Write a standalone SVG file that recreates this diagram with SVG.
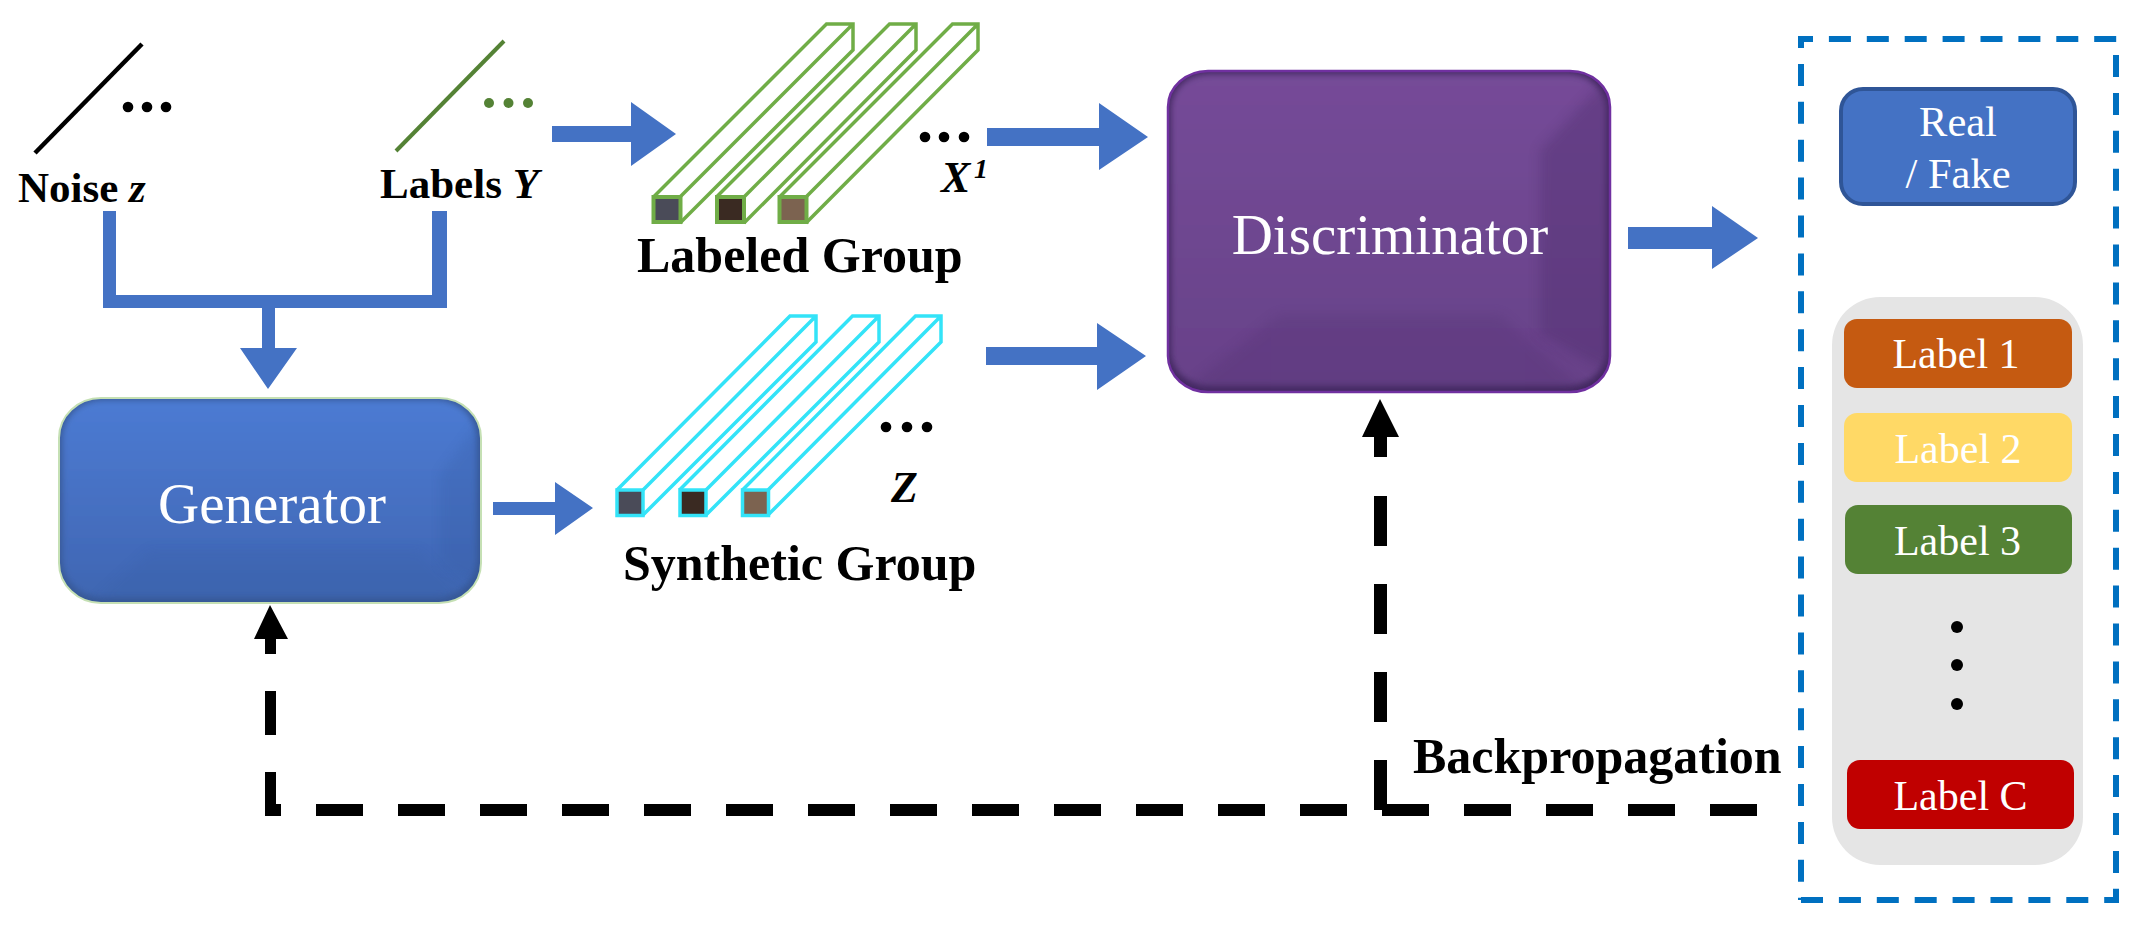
<svg xmlns="http://www.w3.org/2000/svg" width="2141" height="935" viewBox="0 0 2141 935">
<style>
text{font-family:"Liberation Serif","Times New Roman",serif}
.b{font-weight:700;fill:#000;font-size:43px}
.bi{font-weight:700;font-style:italic;fill:#000}
.g{font-weight:700;font-size:50px;fill:#000}
.t{fill:#fff;font-size:57px;text-anchor:middle}
.l{fill:#fff;font-size:42px;text-anchor:middle}
.arrow{fill:#4472c4}
.dash{fill:none;stroke:#000}
.box{fill:none;stroke:#0070c0;stroke-width:6;stroke-dasharray:22 15.9}
.bar-g{fill:#fff;stroke:#70ad47;stroke-width:3.5;stroke-linejoin:miter}
.bar-c{fill:#fff;stroke:#33e3f8;stroke-width:3.5;stroke-linejoin:miter}
</style>
<defs>
<linearGradient id="gblue" x1="0" y1="0" x2="0" y2="1"><stop offset="0" stop-color="#4c7bd3"/><stop offset="1" stop-color="#4066b2"/></linearGradient>
<linearGradient id="gpur" x1="0" y1="0" x2="0" y2="1"><stop offset="0" stop-color="#754b98"/><stop offset="1" stop-color="#684289"/></linearGradient>
<filter id="soft" x="-5%" y="-5%" width="110%" height="110%"><feGaussianBlur stdDeviation="3"/></filter>
<filter id="softer" x="-20%" y="-20%" width="140%" height="140%"><feGaussianBlur stdDeviation="6"/></filter>
<clipPath id="cg"><rect x="59" y="398" width="422" height="205" rx="42" ry="40"/></clipPath>
<clipPath id="cd"><rect x="1168" y="71" width="442" height="321" rx="40" ry="36"/></clipPath>
</defs>

<g id="connectors">
<path class="arrow" d="M552 126H631V102L676 134L631 166V142H552Z"/>
<path class="arrow" d="M103 211H116V295H432V211H447V308H275V348H297L268 389L240 348H262V308H103Z"/>
<path class="arrow" d="M987 128H1099V103L1148 137L1099 170V146H987Z"/>
<path class="arrow" d="M986 347H1097V323L1146 356L1097 390V365H986Z"/>
<path class="arrow" d="M493 502H555V482L593 508L555 535V515H493Z"/>
<path class="arrow" d="M1628 227H1712V206L1758 238L1712 269V249H1628Z"/>
<path class="dash" stroke-width="12" stroke-dasharray="47 35" d="M1757 810H265"/>
<path class="dash" stroke-width="11" stroke-dasharray="44 37" d="M270.500 816V660"/>
<path d="M270 605L288 639H276V654H265V639H254Z" fill="#000"/>
<path class="dash" stroke-width="13" stroke-dasharray="50 38" d="M1380.500 810V495"/>
<path d="M1380 399L1399 437H1387V457H1374V437H1362Z" fill="#000"/>
</g>

<g id="noise-z">
<line x1="35" y1="153" x2="142" y2="44" stroke="#000" stroke-width="4.500"/>
<g fill="#000"><circle cx="128" cy="107" r="5.300"/><circle cx="147" cy="107" r="5.300"/><circle cx="166" cy="107" r="5.300"/></g>
<text class="b" x="18" y="202">Noise <tspan font-style="italic">z</tspan></text>
</g>

<g id="labels-y">
<line x1="396" y1="151" x2="504" y2="41" stroke="#548235" stroke-width="4"/>
<g fill="#548235"><circle cx="489" cy="103" r="5"/><circle cx="508.500" cy="103" r="5"/><circle cx="528" cy="103" r="5"/></g>
<text class="b" x="380" y="198">Labels <tspan font-style="italic">Y</tspan></text>
</g>

<g id="labeled-group">
<g class="bar-g">
<path d="M653.500 197L826.500 24H853V50L680 223M680 197L853 24"/>
<path d="M716.500 197L889.500 24H916V50L744 223M744 197L916 24"/>
<path d="M779.500 197L952.500 24H978V50L806 223M806 197L978 24"/>
</g>
<g stroke="#70ad47" stroke-width="4">
<rect x="653.500" y="197" width="27" height="25" fill="#4a4b58"/>
<rect x="717" y="197" width="27" height="25" fill="#3a2a22"/>
<rect x="779.500" y="197" width="27" height="25" fill="#7c6350"/>
</g>
<g fill="#000"><circle cx="925" cy="137" r="5.300"/><circle cx="944" cy="137" r="5.300"/><circle cx="964" cy="137" r="5.300"/></g>
<text class="bi" x="941" y="192" font-size="44">X</text>
<text class="bi" x="974" y="178" font-size="28">1</text>
<text class="g" x="637" y="272">Labeled Group</text>
</g>

<g id="synthetic-group">
<g class="bar-c">
<path d="M617 490L790 316H816V342L643 515M643 490L816 316"/>
<path d="M679.500 490L852.500 316H879V342L706 515M706 490L879 316"/>
<path d="M742.500 490L915.500 316H941V342L768 515M768 490L941 316"/>
</g>
<g stroke="#33e3f8" stroke-width="3.500">
<rect x="617" y="490" width="26" height="25.500" fill="#4a4b58"/>
<rect x="680" y="490" width="26" height="25.500" fill="#3a2a22"/>
<rect x="742.500" y="490" width="26" height="25.500" fill="#7c6350"/>
</g>
<g fill="#000"><circle cx="886" cy="427" r="5.300"/><circle cx="907" cy="427" r="5.300"/><circle cx="927" cy="427" r="5.300"/></g>
<text class="bi" x="891" y="502" font-size="44">Z</text>
<text class="g" x="623" y="580">Synthetic Group</text>
</g>

<g id="generator">
<rect x="59" y="398" width="422" height="205" rx="42" ry="40" fill="#375896"/>
<g clip-path="url(#cg)">
<rect x="62" y="400" width="415" height="198" rx="40" ry="38" fill="url(#gblue)" filter="url(#soft)"/>
<path d="M440 475L485 415V590L440 565Z" fill="#2f5597" opacity=".18" filter="url(#softer)"/>
<path d="M90 605L150 550H420L470 605Z" fill="#2f5597" opacity=".12" filter="url(#softer)"/>
</g>
<rect x="59" y="398" width="422" height="205" rx="42" ry="40" fill="none" stroke="#c5e0b4" stroke-width="2"/>
<text class="t" x="272" y="523">Generator</text>
</g>

<g id="discriminator">
<rect x="1168" y="71" width="442" height="321" rx="40" ry="36" fill="#422860"/>
<g clip-path="url(#cd)">
<rect x="1171" y="74" width="435" height="312" rx="38" ry="34" fill="url(#gpur)" filter="url(#soft)"/>
<path d="M1540 150L1600 85H1615V375L1540 335Z" fill="#4a2c68" opacity=".32" filter="url(#softer)"/>
<path d="M1190 385L1279 315H1500L1590 395H1190Z" fill="#4a2c68" opacity=".2" filter="url(#softer)"/>
</g>
<rect x="1168" y="71" width="442" height="321" rx="40" ry="36" fill="none" stroke="#7030a0" stroke-width="2.500"/>
<text class="t" x="1390" y="254">Discriminator</text>
</g>

<g id="outputs-box">
<line class="box" x1="1801" y1="39" x2="2119" y2="39" stroke-dashoffset="10"/>
<line class="box" x1="1801" y1="36" x2="1801" y2="900" stroke-dashoffset="10"/>
<line class="box" x1="2116" y1="55" x2="2116" y2="903"/>
<line class="box" x1="1801" y1="900" x2="2119" y2="900"/>
</g>

<g id="real-fake">
<rect x="1841" y="89" width="234" height="115" rx="22" fill="#4472c4" stroke="#2f5597" stroke-width="4"/>
<text class="l" style="font-size:42.5px" x="1958" y="136">Real</text>
<text class="l" style="font-size:42.5px" x="1958" y="188">/ Fake</text>
</g>

<g id="label-panel">
<rect x="1832" y="297" width="251" height="568" rx="48" fill="#e5e5e5"/>
<g fill="#000"><circle cx="1957" cy="627" r="6"/><circle cx="1957" cy="665" r="6"/><circle cx="1957" cy="704" r="6"/></g>
</g>
<g id="label-1"><rect x="1844" y="319" width="228" height="69" rx="13" fill="#c55a11"/><text class="l" x="1956" y="368">Label 1</text></g>
<g id="label-2"><rect x="1844" y="413" width="228" height="69" rx="13" fill="#ffd966"/><text class="l" x="1958" y="463">Label 2</text></g>
<g id="label-3"><rect x="1845" y="505" width="227" height="69" rx="13" fill="#548235"/><text class="l" x="1957.500" y="555">Label 3</text></g>
<g id="label-c"><rect x="1847" y="760" width="227" height="69" rx="13" fill="#c00000"/><text class="l" x="1960.500" y="810">Label C</text></g>

<text id="backpropagation" class="b" style="font-size:50px" x="1413" y="773">Backpropagation</text>
</svg>
